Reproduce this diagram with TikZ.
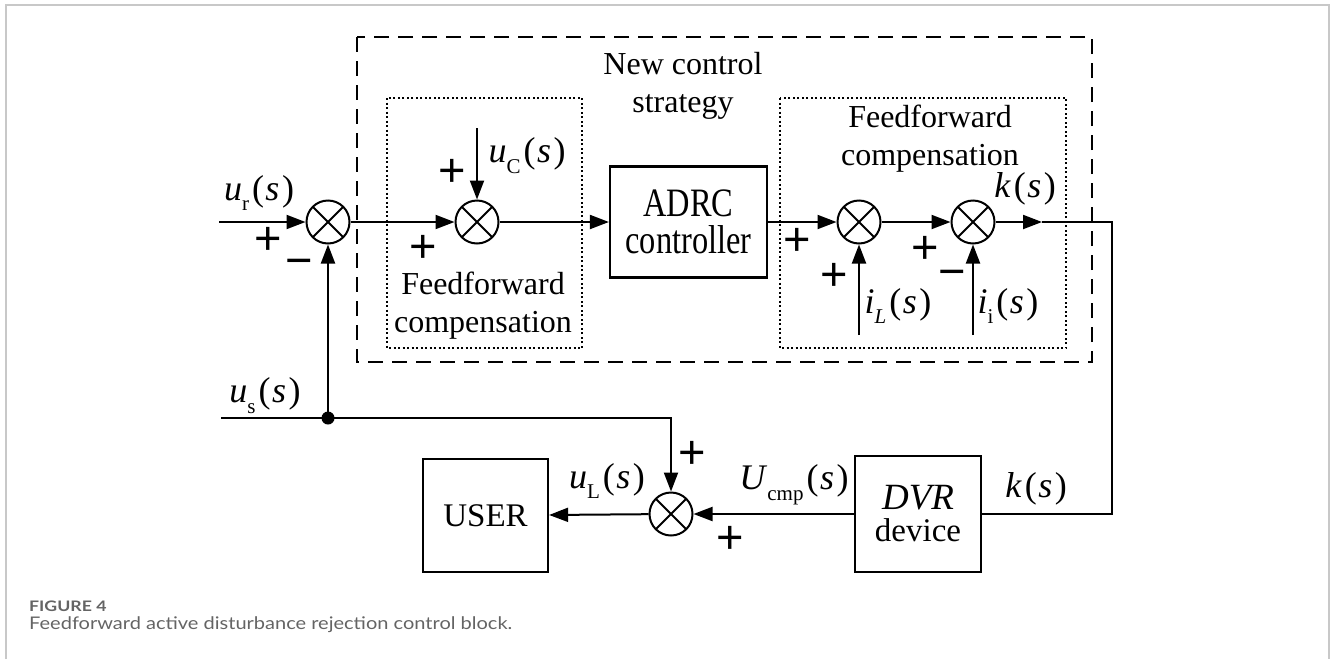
\documentclass[tikz,border=0pt]{standalone}
\usepackage{fontspec}
\setmainfont{Liberation Serif}
\newfontfamily\signfont{Liberation Sans}
\newfontfamily\capfont{Lato}
\usetikzlibrary{arrows.meta}
\newcommand\lsub[1]{\raisebox{-0.3em}{\fontsize{21}{21}\selectfont #1}}
\newcommand\sarg{\kern3pt(\kern1.5pt\textit{s}\kern2.5pt)}
\definecolor{framegray}{RGB}{200,200,200}
\definecolor{capgray}{RGB}{100,100,100}
\tikzset{
  ln/.style={line width=2pt},
  arr/.style={line width=2pt,-{Triangle[length=19pt,width=14pt]}},
  sum/.style={circle,draw,line width=2pt,minimum size=43pt,inner sep=0pt,
    path picture={\draw[line width=1.8pt] (path picture bounding box.north west) -- (path picture bounding box.south east)
      (path picture bounding box.north east) -- (path picture bounding box.south west);}},
  blk/.style={draw,line width=2.2pt,inner sep=0pt,align=center,font=\fontsize{33}{38}\selectfont},
  txt/.style={align=center,font=\fontsize{32}{38}\selectfont,inner sep=0pt},
  lab/.style={font=\fontsize{36}{38}\selectfont,inner sep=0pt},
  sgn/.style={font=\signfont\fontsize{47}{47}\selectfont,inner sep=0pt},
  dashbox/.style={line width=2.2pt,dash pattern=on 15pt off 9pt},
  dotbox/.style={line width=2pt,dash pattern=on 2pt off 2.5pt}
}
\begin{document}
\begin{tikzpicture}[x=1pt,y=-1pt]
\useasboundingbox (0,0) rectangle (1330,659);
% frame
\draw[framegray,line width=2pt] (6,659) -- (6,5) -- (1329,5) -- (1329,659);
% outer and inner boxes
\draw[dashbox] (357,37) rectangle (1092,362);
\draw[dotbox] (387,98) rectangle (582,348);
\draw[dotbox] (780,98) rectangle (1066,348);
\node[txt] (title) at (683,86) {New control\\strategy};
\node[txt] (ffl) at (483,306) {Feedforward\\compensation};
\node[txt] (ffr) at (930,139) {Feedforward\\compensation};
% junctions and blocks
\node[sum] (J1) at (328,222) {};
\node[sum] (J2) at (477,222) {};
\node[sum] (J3) at (859,222) {};
\node[sum] (J4) at (973,222) {};
\node[sum] (J5) at (671,514) {};
\node[blk,minimum width=157pt,minimum height=111pt] (adrc) at (688.5,222) {\scalebox{0.9}[1.12]{\fontsize{36}{38}\selectfont ADRC}\\[-1pt]\scalebox{0.9}[1.12]{\fontsize{36}{38}\selectfont controller}};
\node[blk,minimum width=125pt,minimum height=113pt] (user) at (485.5,515.5) {USER};
\node[blk,minimum width=126pt,minimum height=116pt] (dvr) at (918,514) {\fontsize{37}{40}\selectfont\textit{DVR}\\[-6pt]device};
% free ends
\coordinate (urin) at (219,222);
\coordinate (ucin) at (477,128);
\coordinate (ilin) at (859,335);
\coordinate (iiin) at (973,335);
\coordinate (kmid) at (1042,222);
\coordinate (kc) at (1112,222);
\coordinate (usin) at (221,418);
\coordinate (dot) at (328,418);
% connectors
\draw[arr] (urin) -- (J1);
\draw[arr] (J1) -- (J2);
\draw[arr] (ucin) -- (J2);
\draw[arr] (J2) -- (adrc);
\draw[arr] (adrc) -- (J3);
\draw[arr] (J3) -- (J4);
\draw[arr] (ilin) -- (J3);
\draw[arr] (iiin) -- (J4);
\draw[arr] (J4) -- (kmid);
\draw[ln] (kmid) -- (kc) |- (dvr.east);
\draw[arr] (dvr) -- (J5);
\draw[arr] (J5) -- (user);
\draw[ln] (usin) -- (dot);
\draw[arr] (dot) -- (J1);
\draw[arr] (dot) -| (J5);
\fill (dot) circle (6.5pt);
% labels
\node[lab] (lur) at (259,193) {\textit{u}\lsub{r}\sarg};
\node[lab] (luc) at (527,156) {\textit{u}\lsub{C}\sarg};
\node[lab] (lk1) at (1025,189) {\textit{k}\sarg};
\node[lab] (lil) at (898,306) {\textit{i}\lsub{\textit{L}}\sarg};
\node[lab] (lii) at (1008,306) {\textit{i}\lsub{i}\sarg};
\node[lab] (lus) at (265,396) {\textit{u}\lsub{s}\sarg};
\node[lab] (lul) at (607,481) {\textit{u}\lsub{L}\sarg};
\node[lab] (luc2) at (794,485) {\textit{U}\lsub{cmp}\sarg};
\node[lab] (lk2) at (1036,489) {\textit{k}\sarg};
% signs
\node[sgn] (s1) at (268,241) {+};
\node[sgn] (s2) at (299,268) {−};
\node[sgn] (s3) at (452,173) {+};
\node[sgn] (s4) at (423,249) {+};
\node[sgn] (s5) at (797,242) {+};
\node[sgn] (s6) at (834,277) {+};
\node[sgn] (s7) at (925,250) {+};
\node[sgn] (s8) at (952,279) {−};
\node[sgn] (s9) at (692,455) {+};
\node[sgn] (s10) at (730,540) {+};
% caption
\node[anchor=west,inner sep=0pt,text=capgray,font=\capfont\bfseries\fontsize{14.5}{16}\selectfont] (cap1) at (29,606) {\scalebox{1.22}[1]{FIGURE 4}};
\node[anchor=west,inner sep=0pt,text=capgray,font=\capfont\fontsize{17.4}{20}\selectfont] (cap2) at (29,625) {\scalebox{1.15}[1]{Feedforward active disturbance rejection control block.}};
\end{tikzpicture}
\end{document}
